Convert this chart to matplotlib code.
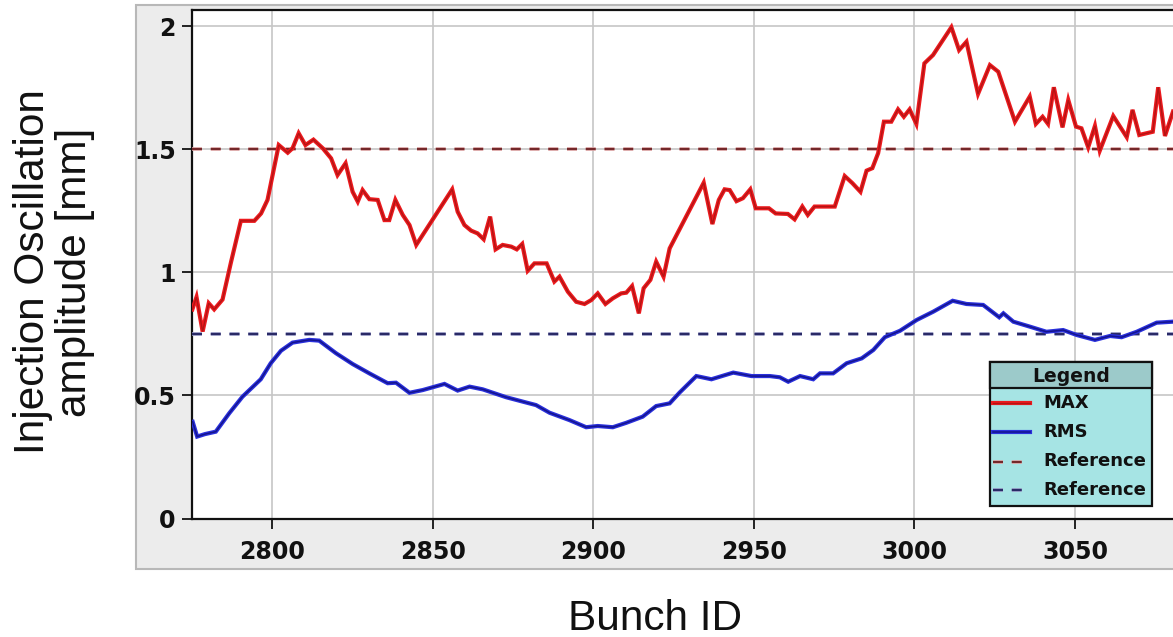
import matplotlib
matplotlib.use("Agg")
import matplotlib.pyplot as plt
import matplotlib.patheffects as pe
from matplotlib.patches import Rectangle
from matplotlib.lines import Line2D

# ---- data -------------------------------------------------------------
max_bunch = [2775.2, 2776.5, 2778.4, 2780.3, 2782.0, 2784.6, 2787.2, 2790.3, 2794.5, 2796.6,
             2798.6, 2802.1, 2804.9, 2806.4, 2808.3, 2810.4, 2812.9, 2815.8, 2818.4, 2820.4,
             2822.9, 2825.1, 2826.7, 2828.2, 2830.3, 2832.9, 2835.0, 2836.5, 2838.4, 2840.7,
             2842.8, 2844.9, 2856.1, 2857.8, 2859.9, 2862.0, 2864.0, 2865.9, 2867.9, 2869.6,
             2871.8, 2874.5, 2876.2, 2877.9, 2879.6, 2881.7, 2885.5, 2887.9, 2889.5, 2892.1,
             2894.7, 2897.3, 2899.4, 2901.4, 2903.8, 2906.1, 2908.7, 2910.3, 2912.1, 2914.2,
             2915.7, 2917.8, 2919.6, 2921.9, 2923.8, 2934.4, 2937.1, 2939.1, 2940.9, 2942.5,
             2944.6, 2946.6, 2948.9, 2950.6, 2954.7, 2956.8, 2960.6, 2962.7, 2965.1, 2966.8,
             2968.9, 2975.2, 2978.3, 2980.7, 2983.2, 2985.1, 2986.9, 2988.7, 2990.5, 2992.8,
             2994.9, 2996.7, 2998.5, 3000.6, 3003.1, 3005.8, 3011.5, 3013.9, 3016.2, 3019.8,
             3023.5, 3026.1, 3031.3, 3035.9, 3037.8, 3039.9, 3041.6, 3043.4, 3046.1, 3047.9,
             3050.3, 3052.0, 3054.1, 3056.2, 3057.7, 3061.9, 3066.1, 3067.9, 3070.0, 3074.2,
             3075.9, 3078.0, 3080.5]
max_amplitude = [0.85, 0.90, 0.76, 0.875, 0.85, 0.89, 1.04, 1.21, 1.21, 1.24,
                 1.295, 1.518, 1.487, 1.505, 1.566, 1.518, 1.54, 1.505, 1.464, 1.396,
                 1.444, 1.328, 1.288, 1.335, 1.298, 1.295, 1.213, 1.213, 1.295, 1.234,
                 1.193, 1.112, 1.338, 1.247, 1.193, 1.17, 1.159, 1.135, 1.227, 1.094,
                 1.112, 1.105, 1.094, 1.116, 1.007, 1.037, 1.037, 0.963, 0.983, 0.922,
                 0.881, 0.872, 0.888, 0.915, 0.872, 0.895, 0.915, 0.918, 0.945, 0.834,
                 0.936, 0.97, 1.044, 0.983, 1.098, 1.365, 1.197, 1.295, 1.338, 1.335,
                 1.29, 1.302, 1.338, 1.261, 1.261, 1.24, 1.238, 1.216, 1.268, 1.234,
                 1.268, 1.268, 1.392, 1.363, 1.328, 1.414, 1.424, 1.485, 1.613, 1.613,
                 1.663, 1.633, 1.663, 1.604, 1.85, 1.884, 1.997, 1.904, 1.938, 1.726,
                 1.843, 1.816, 1.613, 1.715, 1.604, 1.633, 1.604, 1.753, 1.59, 1.701,
                 1.593, 1.586, 1.509, 1.596, 1.495, 1.636, 1.55, 1.661, 1.559, 1.572,
                 1.753, 1.555, 1.654]

rms_bunch = [2775.3, 2776.7, 2779.1, 2782.5, 2786.7, 2790.8, 2796.5, 2799.6, 2802.8, 2806.4,
             2811.6, 2814.7, 2819.9, 2825.1, 2830.3, 2836.0, 2838.6, 2842.8, 2846.9, 2853.7,
             2857.8, 2861.5, 2865.6, 2872.9, 2878.1, 2882.2, 2886.4, 2892.6, 2897.8, 2901.4,
             2906.1, 2910.3, 2915.4, 2919.6, 2923.8, 2926.9, 2932.1, 2936.8, 2943.6, 2949.3,
             2955.0, 2958.1, 2960.7, 2964.4, 2968.5, 2970.6, 2974.7, 2978.9, 2983.6, 2987.2,
             2990.8, 2995.5, 3000.7, 3005.9, 3011.9, 3016.2, 3021.4, 3026.4, 3027.7, 3030.8,
             3035.9, 3041.1, 3046.3, 3050.5, 3056.2, 3060.9, 3064.5, 3069.2, 3075.4, 3080.4]
rms_amplitude = [0.393, 0.333, 0.343, 0.353, 0.428, 0.495, 0.566, 0.631, 0.682, 0.715,
                 0.726, 0.723, 0.672, 0.628, 0.590, 0.550, 0.552, 0.511, 0.522, 0.547,
                 0.520, 0.536, 0.525, 0.493, 0.475, 0.461, 0.430, 0.400, 0.371, 0.376,
                 0.371, 0.389, 0.414, 0.457, 0.468, 0.512, 0.579, 0.566, 0.593, 0.579,
                 0.579, 0.574, 0.556, 0.579, 0.566, 0.590, 0.590, 0.631, 0.651, 0.685,
                 0.737, 0.763, 0.807, 0.841, 0.885, 0.872, 0.868, 0.818, 0.834, 0.800,
                 0.780, 0.759, 0.766, 0.746, 0.726, 0.742, 0.737, 0.759, 0.796, 0.800]

max_reference = 1.5
rms_reference = 0.75

x_ticks = [2800, 2850, 2900, 2950, 3000, 3050]
y_ticks = [0, 0.5, 1, 1.5, 2]
y_tick_labels = ["0", "0.5", "1", "1.5", "2"]
legend_title = "Legend"
legend_labels = ["MAX", "RMS", "Reference", "Reference"]
x_label = "Bunch ID"
y_label = "Injection Oscillation\namplitude [mm]"

# ---- layout helpers (pixel positions on a 1173 x 637 canvas) ----------
W, H = 1173, 637
plt.rcParams["lines.scale_dashes"] = False


def fx(px):
    return px / W


def fy(py):
    return 1 - py / H


fig = plt.figure(figsize=(W / 100, H / 100), dpi=100, facecolor="white")

# light grey chart panel behind the plot area
fig.add_artist(Rectangle((fx(136), fy(569)), fx(1200) - fx(136), fy(5) - fy(569),
                         transform=fig.transFigure, facecolor="#ececec",
                         edgecolor="#b8b8b8", linewidth=1.5, zorder=-2))

ax = fig.add_axes([fx(191.7), fy(518.5), fx(1173) - fx(191.7), fy(10) - fy(518.5)])
ax.set_facecolor("white")
ax.set_xlim(2775, 3080.5)
ax.set_ylim(0, 2.067)

ax.set_xticks(x_ticks)
ax.set_yticks(y_ticks)
ax.set_yticklabels(y_tick_labels)
ax.grid(True, color="#c6c6c6", linewidth=1.2)
ax.set_axisbelow(True)

for side in ("left", "bottom", "top"):
    ax.spines[side].set_color("#111111")
    ax.spines[side].set_linewidth(1.6)
ax.spines["right"].set_visible(False)

ax.tick_params(axis="both", direction="out", length=7.5, width=1.4, color="#222222",
               labelsize=17, labelcolor="#111111")
ax.tick_params(axis="x", pad=8)
ax.tick_params(axis="y", pad=4)
for lab in ax.get_xticklabels() + ax.get_yticklabels():
    lab.set_fontweight("bold")
    lab.set_family("DejaVu Sans")

# ---- series ---------------------------------------------------------------
ref_max, = ax.plot([2775, 3080.5], [max_reference, max_reference], color="#74282a",
                   linewidth=1.6, linestyle=(0, (7.2, 6.3)),
                   path_effects=[pe.Stroke(linewidth=2.6, foreground="#e8b0b0"), pe.Normal()],
                   zorder=3)
ref_rms, = ax.plot([2775, 3080.5], [rms_reference, rms_reference], color="#2a2a66",
                   linewidth=1.6, linestyle=(0, (7.2, 6.3)),
                   path_effects=[pe.Stroke(linewidth=2.6, foreground="#9ea0cc"), pe.Normal()],
                   zorder=3)
line_max, = ax.plot(max_bunch, max_amplitude, color="#b41414", linewidth=1.0,
                    path_effects=[pe.Stroke(linewidth=3.0, foreground="#ec1a1e"), pe.Normal()],
                    solid_joinstyle="miter", zorder=4)
line_rms, = ax.plot(rms_bunch, rms_amplitude, color="#14148e", linewidth=1.1,
                    path_effects=[pe.Stroke(linewidth=3.0, foreground="#2a30dc"), pe.Normal()],
                    solid_joinstyle="miter", zorder=4)

# ---- axis titles ------------------------------------------------------------
fig.text(fx(655), fy(619), x_label, ha="center", va="center",
         family="Liberation Sans", fontsize=30.5, color="#111111")
fig.text(fx(54), fy(272), y_label, ha="center", va="center", rotation=90,
         multialignment="center", linespacing=1.05,
         family="Liberation Sans", fontsize=30.5, color="#111111")

# ---- legend box ---------------------------------------------------------------
box_l, box_r, box_t, box_b, head_b = 990, 1152, 362, 506, 388
fig.add_artist(Rectangle((fx(box_l), fy(box_b)), fx(box_r) - fx(box_l), fy(box_t) - fy(box_b),
                         transform=fig.transFigure, facecolor="#a6e4e4",
                         edgecolor="#111111", linewidth=1.6, zorder=6))
fig.add_artist(Rectangle((fx(box_l), fy(head_b)), fx(box_r) - fx(box_l), fy(box_t) - fy(head_b),
                         transform=fig.transFigure, facecolor="#9ccaca",
                         edgecolor="#111111", linewidth=1.6, zorder=7))
fig.text(fx((box_l + box_r) / 2), fy(376), legend_title, ha="center", va="center",
         fontsize=13.5, fontweight="bold", family="DejaVu Sans", color="#111111", zorder=8)

entry_rows = [403, 432, 461.5, 490]
for row, src, label in zip(entry_rows, [line_max, line_rms, ref_max, ref_rms], legend_labels):
    handle = Line2D([fx(993), fx(1030)], [fy(row), fy(row)], transform=fig.transFigure,
                    color=src.get_color(), linewidth=src.get_linewidth(),
                    linestyle=src.get_linestyle(), zorder=8)
    if src in (ref_max, ref_rms):
        handle.set_dashes((7.2, 6.3))
    handle.set_path_effects(src.get_path_effects())
    fig.add_artist(handle)
    fig.text(fx(1043), fy(row), label, ha="left", va="center", fontsize=13,
             fontweight="bold", family="DejaVu Sans", color="#111111", zorder=8)

fig.savefig("out.png", dpi=100, facecolor="white")
